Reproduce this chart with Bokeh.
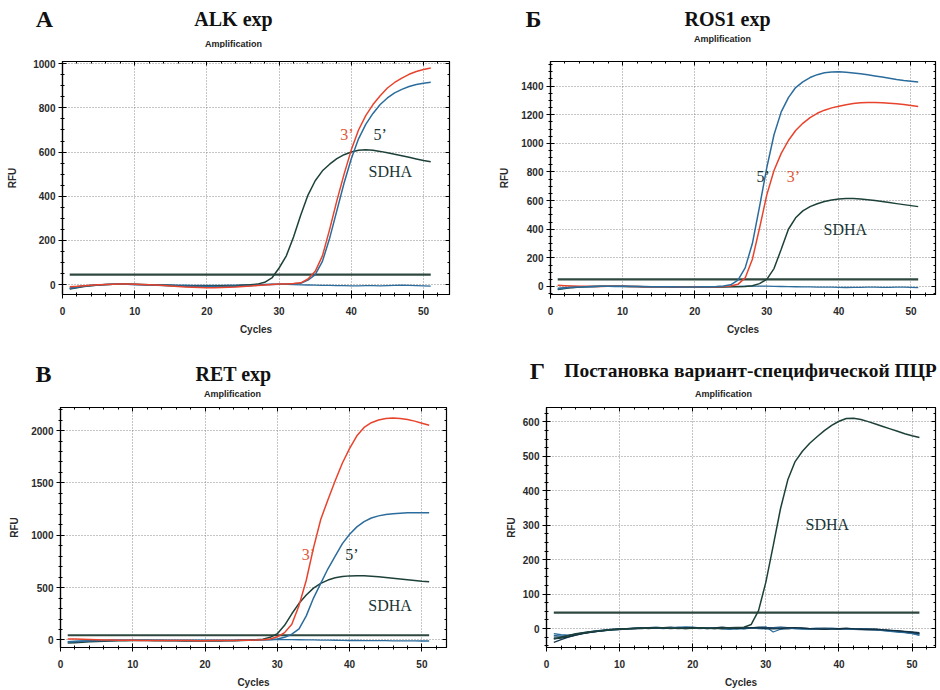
from bokeh.plotting import figure
from bokeh.models import Label, Range1d, SingleIntervalTicker, LinearAxis, CustomLabelingPolicy
from bokeh.layouts import column, row
from bokeh.embed import file_html
from bokeh.resources import INLINE

cycles = list(range(1, 52))

# ---------------- Panel A : ALK exp ----------------
alk_3 = [-10, -8, -5, -3, -1, 0, 1, 2, 2, 1,
         0, -1, -2, -4, -6, -9, -11, -12, -13, -14,
         -14, -13, -12, -11, -9, -7, -4, -2, 0, 2,
         3, 5, 8, 25, 60, 130, 250, 380, 500, 610,
         700, 765, 815, 855, 890, 915, 935, 952, 965, 974, 981]
alk_5 = [-18, -12, -7, -4, -2, 0, 1, 1, 1, 0,
         -1, -2, -3, -4, -5, -6, -7, -8, -9, -10,
         -10, -10, -9, -8, -7, -5, -3, -1, 0, 1,
         3, 4, 6, 20, 45, 105, 210, 335, 460, 570,
         660, 725, 775, 815, 845, 868, 884, 897, 906, 912, 916]
alk_sdha = [-20, -14, -9, -5, -2, 0, 1, 2, 2, 1,
            0, -1, -2, -3, -4, -5, -6, -7, -8, -8,
            -8, -7, -6, -5, -3, -1, 2, 10, 30, 75,
            130, 215, 315, 405, 470, 515, 545, 570, 588, 600,
            608, 610, 608, 603, 597, 590, 583, 576, 569, 562, 556]
alk_ntc = [-15, -10, -6, -3, -1, 0, 1, 1, 1, 0,
           0, -1, -1, -2, -2, -3, -3, -4, -4, -4,
           -4, -4, -3, -3, -2, -1, 0, 1, 2, 2,
           1, 0, -1, -2, -3, -4, -4, -5, -5, -6,
           -6, -5, -5, -6, -5, -4, -3, -4, -5, -6, -7]
alk_threshold = 45

# ---------------- Panel Б : ROS1 exp ----------------
ros1_5 = [-18, -10, -6, -3, -1, 0, 1, 2, 2, 1,
          1, 0, 0, -1, -1, -2, -2, -3, -3, -3,
          -2, -1, 0, 3, 12, 45, 130, 300, 560, 830,
          1060, 1220, 1320, 1390, 1430, 1460, 1480, 1493, 1498, 1500,
          1497, 1492, 1486, 1479, 1471, 1463, 1455, 1447, 1440, 1434, 1428]
ros1_3 = [8, 6, 4, 2, 1, 0, 0, 1, 1, 1,
          0, 0, -1, -1, -2, -2, -2, -3, -3, -3,
          -2, -2, -1, 0, 3, 15, 60, 190, 410, 640,
          810, 930, 1020, 1090, 1140, 1180, 1210, 1232, 1248, 1260,
          1270, 1278, 1284, 1286, 1286, 1284, 1280, 1276, 1271, 1265, 1258]
ros1_sdha = [-22, -14, -8, -4, -2, 0, 1, 1, 1, 1,
             0, 0, -1, -1, -2, -2, -3, -3, -4, -4,
             -4, -4, -3, -3, -2, -1, 0, 5, 20, 50,
             125, 260, 400, 480, 528, 558, 578, 594, 605, 611,
             614, 614, 611, 606, 600, 593, 586, 579, 572, 565, 558]
ros1_ntc = [-12, -8, -5, -3, -1, 0, 1, 1, 0, 0,
            -1, -1, -2, -2, -3, -3, -3, -4, -4, -3,
            -3, -2, -2, -1, 0, 1, 2, 3, 3, 2,
            1, 0, -1, -2, -3, -3, -4, -4, -5, -6,
            -7, -6, -6, -5, -5, -6, -6, -5, -4, -6, -8]
ros1_threshold = 50

# ---------------- Panel В : RET exp ----------------
ret_3 = [10, 8, 6, 4, 2, 0, -1, -2, -3, -3,
         -4, -4, -5, -5, -5, -6, -6, -6, -7, -7,
         -6, -6, -5, -4, -3, -2, 0, 3, 10, 30,
         70, 150, 330, 570, 880, 1150, 1340, 1520, 1690, 1830,
         1950, 2030, 2075, 2100, 2115, 2120, 2115, 2105, 2090, 2070, 2050]
ret_5 = [-20, -16, -12, -9, -7, -5, -4, -3, -3, -2,
         -2, -2, -3, -3, -4, -4, -5, -5, -6, -6,
         -6, -5, -5, -4, -3, -2, -1, 0, 3, 10,
         25, 55, 105, 230, 400, 540, 680, 800, 920, 1010,
         1080, 1130, 1165, 1185, 1198, 1206, 1211, 1214, 1215, 1215, 1214]
ret_sdha = [-30, -26, -22, -18, -15, -12, -10, -8, -7, -6,
            -6, -6, -7, -7, -8, -8, -9, -9, -10, -10,
            -10, -9, -8, -7, -5, -3, 2, 8, 25, 60,
            140, 250, 350, 430, 495, 540, 572, 594, 606, 612,
            614, 613, 609, 603, 596, 589, 582, 575, 568, 561, 555]
ret_ntc = [-15, -12, -9, -7, -5, -4, -3, -2, -2, -1,
           -1, -1, -2, -2, -2, -3, -3, -3, -3, -3,
           -3, -2, -2, -1, 0, 1, 2, 3, 4, 5,
           4, 3, 2, 1, 0, -1, -2, -3, -4, -5,
           -5, -6, -6, -7, -7, -8, -8, -9, -9, -10, -10]
ret_threshold = 45

# ---------------- Panel Г : variant-specific PCR ----------------
vs_sdha = [-30, -25, -20, -15, -12, -9, -7, -5, -3, -2,
           -1, 0, 1, 1, 2, 2, 1, 1, 0, 1,
           2, 1, 0, 1, 2, 3, 4, 12, 52, 135,
           240, 348, 432, 485, 515, 538, 557, 575, 590, 602,
           610, 611, 607, 601, 594, 587, 580, 573, 566, 560, 555]
vs_neg1 = [-40, -32, -25, -19, -14, -10, -7, -5, -3, -2,
           -1, 0, 1, 0, 2, 3, 1, 0, 1, 3,
           2, 1, 0, 2, 3, 1, 0, 2, 4, 3,
           1, 0, -1, 1, 2, 0, -1, -2, -1, 0,
           -1, -2, -3, -2, -3, -5, -7, -9, -11, -13, -15]
vs_neg2 = [-20, -22, -20, -16, -12, -9, -6, -4, -2, -1,
           0, 1, 2, 3, 4, 2, 1, 3, 5, 4,
           2, 0, 1, 3, 2, 0, -1, 1, 3, 5,
           -10, -2, 1, 0, -1, 0, 1, 0, -1, 0,
           0, -1, -2, -1, -2, -4, -6, -8, -10, -14, -18]
vs_neg3 = [-25, -24, -21, -17, -13, -10, -8, -6, -4, -3,
           -1, 0, 0, 1, 2, 3, 4, 2, 0, 1,
           2, 3, 1, -1, 0, 2, 3, 2, 1, 2,
           3, 4, 3, 1, 0, -1, 0, 1, 0, -2,
           -1, 0, -1, -2, -3, -4, -5, -6, -8, -10, -12]
vs_neg4 = [-15, -18, -19, -17, -14, -11, -8, -6, -4, -2,
           -1, 0, 1, 2, 1, 0, 2, 4, 3, 1,
           0, 1, 2, 0, -2, -1, 1, 2, 0, -1,
           1, 2, 1, 0, -1, -2, -1, 0, 1, 0,
           -1, -2, -2, -3, -4, -6, -8, -10, -12, -15, -20]
vs_neg5 = [-30, -28, -24, -19, -15, -11, -8, -5, -3, -1,
           0, 1, 2, 2, 3, 1, 0, 1, 2, 3,
           1, 0, 2, 4, 2, 0, 1, 3, 2, 0,
           -1, 0, 2, 3, 1, 0, -1, -2, -1, 0,
           1, -1, -2, -3, -2, -4, -5, -7, -9, -11, -14]
vs_threshold = 46

RED = "#e8432c"
BLUE = "#2b6c9c"
DARK = "#1d4139"
THR = "#2e4840"
NAVY = "#173a52"

SERIF = "Liberation Serif"
SANS = "Liberation Sans"


def make_heading(letter, title, height, letter_xy, title_xy, amp_xy, tsize="20px"):
    h = figure(width=470, height=height, x_range=Range1d(0, 470),
               y_range=Range1d(0, height), x_axis_type=None, y_axis_type=None,
               output_backend="svg", toolbar_location=None, min_border=0,
               outline_line_color=None, background_fill_color="white",
               border_fill_color="white")
    h.add_layout(Label(x=letter_xy[0], y=height - letter_xy[1], text=letter,
                       text_font=SERIF, text_font_size="24px", text_font_style="bold",
                       text_align="center", text_baseline="middle", text_color="#111111"))
    h.add_layout(Label(x=title_xy[0], y=height - title_xy[1], text=title,
                       text_font=SERIF, text_font_size=tsize, text_font_style="bold",
                       text_align="center", text_baseline="middle", text_color="#111111"))
    h.add_layout(Label(x=amp_xy[0], y=height - amp_xy[1], text="Amplification",
                       text_font=SANS, text_font_size="9px", text_font_style="bold",
                       text_align="center", text_baseline="middle", text_color="#222222"))
    return h


def tick_only_axis(ticker):
    return LinearAxis(ticker=ticker, major_label_text_font_size="1px",
                      major_label_policy=CustomLabelingPolicy(
                          code="for (const i of indices) indices.unset(i)\nreturn indices"),
                      major_tick_in=4, major_tick_out=0, minor_tick_in=2,
                      minor_tick_out=0, major_label_standoff=0,
                      axis_line_color="black", major_tick_line_color="black",
                      minor_tick_line_color="black")


def make_panel(height, xr, yr, ystep, yminor, border, rfu_standoff, series,
               threshold, notes):
    bl, br, bt, bb = border
    p = figure(width=470, height=height, x_range=Range1d(*xr), y_range=Range1d(*yr),
               output_backend="svg", toolbar_location=None,
               min_border_left=bl, min_border_right=br, min_border_top=bt,
               min_border_bottom=bb, outline_line_color="black",
               outline_line_width=1.2, background_fill_color="white",
               border_fill_color="white")
    p.xaxis.ticker = SingleIntervalTicker(interval=10, num_minor_ticks=5)
    p.yaxis.ticker = SingleIntervalTicker(interval=ystep, num_minor_ticks=yminor)
    p.xaxis.axis_label = "Cycles"
    p.yaxis.axis_label = "RFU"
    for ax in (p.xaxis[0], p.yaxis[0]):
        ax.axis_line_color = "black"
        ax.axis_line_width = 1.2
        ax.major_tick_in = 4
        ax.major_tick_out = 4
        ax.minor_tick_in = 2
        ax.minor_tick_out = 2
        ax.major_tick_line_color = "black"
        ax.minor_tick_line_color = "black"
        ax.major_label_text_font = SANS
        ax.major_label_text_font_size = "10px"
        ax.major_label_text_font_style = "bold"
        ax.major_label_text_color = "#2a2a2a"
        ax.axis_label_text_font = SANS
        ax.axis_label_text_font_size = "10px"
        ax.axis_label_text_font_style = "bold"
        ax.axis_label_text_color = "#2a2a2a"
    p.xaxis.major_label_standoff = 8
    p.xaxis.axis_label_standoff = 6
    p.yaxis.major_label_standoff = 3
    p.yaxis.axis_label_standoff = rfu_standoff
    p.add_layout(tick_only_axis(SingleIntervalTicker(interval=10, num_minor_ticks=5)), "above")
    p.add_layout(tick_only_axis(SingleIntervalTicker(interval=ystep, num_minor_ticks=yminor)),
                 "right")
    for g in (p.xgrid[0], p.ygrid[0]):
        g.grid_line_color = "#8a8a8a"
        g.grid_line_dash = "1 2"
        g.grid_line_width = 1
    p.line(x=[cycles[0], cycles[-1]], y=[threshold, threshold], line_color=THR,
           line_width=2.2)
    for ys, col, w in series:
        p.line(x=cycles, y=ys, line_color=col, line_width=w)
    for txt, x, y, col, size in notes:
        p.add_layout(Label(x=x, y=y, text=txt, text_color=col, text_font=SERIF,
                           text_font_size=size, text_align="center",
                           text_baseline="middle"))
    return p


TOP_H = 48
BOT_H = 55

hA = make_heading("A", "ALK exp", TOP_H, (44, 18), (233, 18), (233, 43))
hB = make_heading("\u0411", "ROS1 exp", TOP_H, (63, 18), (257, 18), (252, 38))
hC = make_heading("\u0412", "RET exp", BOT_H, (43, 28), (233, 28), (232, 48))
hD = make_heading("\u0413",
                  "\u041f\u043e\u0441\u0442\u0430\u043d\u043e\u0432\u043a\u0430 "
                  "\u0432\u0430\u0440\u0438\u0430\u043d\u0442-\u0441\u043f\u0435\u0446"
                  "\u0438\u0444\u0438\u0447\u0435\u0441\u043a\u043e\u0439 \u041f\u0426\u0420",
                  BOT_H, (67, 25), (280, 25), (253, 48), tsize="19.5px")

pA = make_panel(
    345 - TOP_H, (0, 53.6), (-45, 1010), 200, 4, (62, 21, 13, 49), 12,
    [(alk_ntc, BLUE, 1.3), (alk_sdha, DARK, 1.5), (alk_5, BLUE, 1.5), (alk_3, RED, 1.5)],
    alk_threshold,
    [("3\u2019", 39.4, 678, "#e0583a", "16px"), ("5\u2019", 44.0, 678, "#1a3535", "16px"),
     ("SDHA", 45.4, 513, "#1a3535", "16px")])

pB = make_panel(
    345 - TOP_H, (0, 53.4), (-56, 1572), 200, 4, (80, 4, 4, 51), 8,
    [(ros1_ntc, BLUE, 1.3), (ros1_sdha, DARK, 1.5), (ros1_3, RED, 1.5), (ros1_5, BLUE, 1.5)],
    ros1_threshold,
    [("5\u2019", 29.5, 766, "#1a3535", "16px"), ("3\u2019", 33.7, 766, "#e0583a", "16px"),
     ("SDHA", 40.9, 397, "#1a3535", "16px")])

pC = make_panel(
    345 - BOT_H, (0, 53.4), (-72, 2220), 500, 5, (60, 24, 7, 41), 8,
    [(ret_ntc, BLUE, 1.3), (ret_sdha, DARK, 1.5), (ret_5, BLUE, 1.5), (ret_3, RED, 1.5)],
    ret_threshold,
    [("3\u2019", 34.3, 819, "#e0583a", "16px"), ("5\u2019", 40.3, 819, "#1a3535", "16px"),
     ("SDHA", 45.6, 331, "#1a3535", "16px")])

pD = make_panel(
    345 - BOT_H, (0, 53.2), (-55, 642), 100, 4, (76, 3, 7, 41), 3,
    [(vs_neg1, NAVY, 1.3), (vs_neg2, BLUE, 1.3), (vs_neg3, NAVY, 1.3), (vs_neg4, BLUE, 1.3),
     (vs_neg5, "#123040", 1.3), (vs_sdha, DARK, 1.5)],
    vs_threshold,
    [("SDHA", 38.4, 303, "#1a3535", "16px")])

layout = column(row(hA, hB, spacing=0), row(pA, pB, spacing=0),
                row(hC, hD, spacing=0), row(pC, pD, spacing=0), spacing=0)

open("out.html", "w").write(file_html(layout, INLINE))
